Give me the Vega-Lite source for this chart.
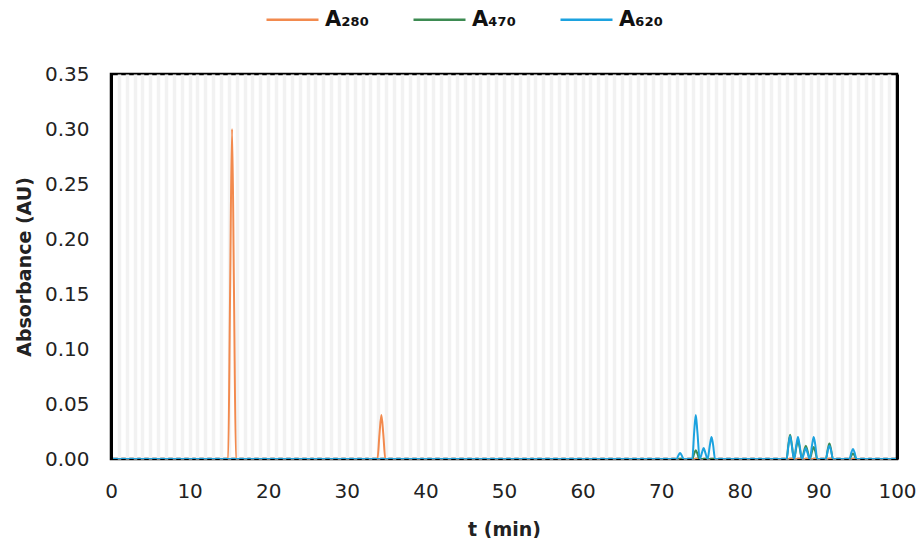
{
  "$schema": "https://vega.github.io/schema/vega-lite/v6.json",
  "width": 786,
  "height": 385,
  "autosize": {"type": "none"},
  "padding": {"left": 111, "top": 74, "right": 20, "bottom": 79},
  "background": "white",
  "config": {
    "font": "DejaVu Sans",
    "view": {"stroke": "#000000", "strokeWidth": 2.5}
  },
  "data": {
    "values": [
      {"t": 0, "v": 0, "s": "A₂₈₀"},
      {"t": 14.9, "v": 0, "s": "A₂₈₀"},
      {"t": 15.15, "v": 0.15, "s": "A₂₈₀"},
      {"t": 15.4, "v": 0.30, "s": "A₂₈₀"},
      {"t": 15.65, "v": 0.15, "s": "A₂₈₀"},
      {"t": 15.9, "v": 0, "s": "A₂₈₀"},
      {"t": 33.9, "v": 0, "s": "A₂₈₀"},
      {"t": 34.15, "v": 0.022, "s": "A₂₈₀"},
      {"t": 34.4, "v": 0.040, "s": "A₂₈₀"},
      {"t": 34.65, "v": 0.022, "s": "A₂₈₀"},
      {"t": 34.9, "v": 0, "s": "A₂₈₀"},
      {"t": 100, "v": 0, "s": "A₂₈₀"},

      {"t": 0, "v": 0, "s": "A₄₇₀"},
      {"t": 73.95, "v": 0, "s": "A₄₇₀"},
      {"t": 74.2, "v": 0.005, "s": "A₄₇₀"},
      {"t": 74.4, "v": 0.008, "s": "A₄₇₀"},
      {"t": 74.6, "v": 0.005, "s": "A₄₇₀"},
      {"t": 74.85, "v": 0, "s": "A₄₇₀"},
      {"t": 85.95, "v": 0, "s": "A₄₇₀"},
      {"t": 86.2, "v": 0.014, "s": "A₄₇₀"},
      {"t": 86.4, "v": 0.022, "s": "A₄₇₀"},
      {"t": 86.6, "v": 0.014, "s": "A₄₇₀"},
      {"t": 86.9, "v": 0, "s": "A₄₇₀"},
      {"t": 87.2, "v": 0.011, "s": "A₄₇₀"},
      {"t": 87.4, "v": 0.017, "s": "A₄₇₀"},
      {"t": 87.6, "v": 0.011, "s": "A₄₇₀"},
      {"t": 87.9, "v": 0, "s": "A₄₇₀"},
      {"t": 88.2, "v": 0.008, "s": "A₄₇₀"},
      {"t": 88.4, "v": 0.012, "s": "A₄₇₀"},
      {"t": 88.6, "v": 0.008, "s": "A₄₇₀"},
      {"t": 88.9, "v": 0, "s": "A₄₇₀"},
      {"t": 89.2, "v": 0.007, "s": "A₄₇₀"},
      {"t": 89.4, "v": 0.011, "s": "A₄₇₀"},
      {"t": 89.6, "v": 0.007, "s": "A₄₇₀"},
      {"t": 89.85, "v": 0, "s": "A₄₇₀"},
      {"t": 90.95, "v": 0, "s": "A₄₇₀"},
      {"t": 91.2, "v": 0.009, "s": "A₄₇₀"},
      {"t": 91.4, "v": 0.014, "s": "A₄₇₀"},
      {"t": 91.6, "v": 0.009, "s": "A₄₇₀"},
      {"t": 91.85, "v": 0, "s": "A₄₇₀"},
      {"t": 93.95, "v": 0, "s": "A₄₇₀"},
      {"t": 94.2, "v": 0.003, "s": "A₄₇₀"},
      {"t": 94.4, "v": 0.005, "s": "A₄₇₀"},
      {"t": 94.6, "v": 0.003, "s": "A₄₇₀"},
      {"t": 94.85, "v": 0, "s": "A₄₇₀"},
      {"t": 100, "v": 0, "s": "A₄₇₀"},

      {"t": 0, "v": 0, "s": "A₆₂₀"},
      {"t": 71.95, "v": 0, "s": "A₆₂₀"},
      {"t": 72.2, "v": 0.0035, "s": "A₆₂₀"},
      {"t": 72.4, "v": 0.0055, "s": "A₆₂₀"},
      {"t": 72.6, "v": 0.0035, "s": "A₆₂₀"},
      {"t": 72.85, "v": 0, "s": "A₆₂₀"},
      {"t": 73.95, "v": 0, "s": "A₆₂₀"},
      {"t": 74.2, "v": 0.025, "s": "A₆₂₀"},
      {"t": 74.4, "v": 0.040, "s": "A₆₂₀"},
      {"t": 74.6, "v": 0.025, "s": "A₆₂₀"},
      {"t": 74.9, "v": 0, "s": "A₆₂₀"},
      {"t": 75.2, "v": 0.006, "s": "A₆₂₀"},
      {"t": 75.4, "v": 0.010, "s": "A₆₂₀"},
      {"t": 75.6, "v": 0.006, "s": "A₆₂₀"},
      {"t": 75.9, "v": 0, "s": "A₆₂₀"},
      {"t": 76.2, "v": 0.013, "s": "A₆₂₀"},
      {"t": 76.4, "v": 0.020, "s": "A₆₂₀"},
      {"t": 76.6, "v": 0.013, "s": "A₆₂₀"},
      {"t": 76.85, "v": 0, "s": "A₆₂₀"},
      {"t": 85.95, "v": 0, "s": "A₆₂₀"},
      {"t": 86.2, "v": 0.013, "s": "A₆₂₀"},
      {"t": 86.4, "v": 0.021, "s": "A₆₂₀"},
      {"t": 86.6, "v": 0.013, "s": "A₆₂₀"},
      {"t": 86.9, "v": 0, "s": "A₆₂₀"},
      {"t": 87.2, "v": 0.013, "s": "A₆₂₀"},
      {"t": 87.4, "v": 0.020, "s": "A₆₂₀"},
      {"t": 87.6, "v": 0.013, "s": "A₆₂₀"},
      {"t": 87.9, "v": 0, "s": "A₆₂₀"},
      {"t": 88.2, "v": 0.006, "s": "A₆₂₀"},
      {"t": 88.4, "v": 0.010, "s": "A₆₂₀"},
      {"t": 88.6, "v": 0.006, "s": "A₆₂₀"},
      {"t": 88.9, "v": 0, "s": "A₆₂₀"},
      {"t": 89.2, "v": 0.013, "s": "A₆₂₀"},
      {"t": 89.4, "v": 0.020, "s": "A₆₂₀"},
      {"t": 89.6, "v": 0.013, "s": "A₆₂₀"},
      {"t": 89.85, "v": 0, "s": "A₆₂₀"},
      {"t": 90.95, "v": 0, "s": "A₆₂₀"},
      {"t": 91.2, "v": 0.008, "s": "A₆₂₀"},
      {"t": 91.4, "v": 0.012, "s": "A₆₂₀"},
      {"t": 91.6, "v": 0.008, "s": "A₆₂₀"},
      {"t": 91.85, "v": 0, "s": "A₆₂₀"},
      {"t": 93.95, "v": 0, "s": "A₆₂₀"},
      {"t": 94.2, "v": 0.006, "s": "A₆₂₀"},
      {"t": 94.4, "v": 0.009, "s": "A₆₂₀"},
      {"t": 94.6, "v": 0.006, "s": "A₆₂₀"},
      {"t": 94.85, "v": 0, "s": "A₆₂₀"},
      {"t": 100, "v": 0, "s": "A₆₂₀"}
    ]
  },
  "layer": [
    {
      "mark": {"type": "line", "strokeWidth": 2, "interpolate": "monotone", "clip": true},
      "encoding": {
        "x": {
          "field": "t",
          "type": "quantitative",
          "scale": {"domain": [0, 100], "nice": false},
          "axis": {
            "orient": "top",
            "title": null,
            "values": [1,2,3,4,5,6,7,8,9,10,11,12,13,14,15,16,17,18,19,20,21,22,23,24,25,26,27,28,29,30,31,32,33,34,35,36,37,38,39,40,41,42,43,44,45,46,47,48,49,50,51,52,53,54,55,56,57,58,59,60,61,62,63,64,65,66,67,68,69,70,71,72,73,74,75,76,77,78,79,80,81,82,83,84,85,86,87,88,89,90,91,92,93,94,95,96,97,98,99],
            "labels": false,
            "ticks": false,
            "domain": false,
            "grid": true,
            "gridColor": "#f2f2f2",
            "gridWidth": 3.5
          }
        },
        "y": {
          "field": "v",
          "type": "quantitative",
          "scale": {"domain": [0, 0.35], "nice": false},
          "axis": {
            "title": "Absorbance (AU)",
            "titleFontSize": 19,
            "titleFontWeight": "bold",
            "titleColor": "#222222",
            "titlePadding": 10,
            "values": [0, 0.05, 0.1, 0.15, 0.2, 0.25, 0.3, 0.35],
            "format": ".2f",
            "labelFontSize": 20,
            "labelColor": "#222222",
            "labelPadding": 22,
            "ticks": false,
            "domain": true,
            "domainColor": "#000000",
            "domainWidth": 3,
            "zindex": 1,
            "grid": false
          }
        },
        "color": {
          "field": "s",
          "type": "nominal",
          "scale": {
            "domain": ["A₂₈₀", "A₄₇₀", "A₆₂₀"],
            "range": ["#F28A4E", "#3D8B52", "#1CA2DF"]
          },
          "legend": {
            "title": null,
            "orient": "none",
            "direction": "horizontal",
            "legendX": 154,
            "legendY": -82,
            "symbolType": "stroke",
            "symbolSize": 2704,
            "symbolStrokeWidth": 2.5,
            "labelFont": "DejaVu Sans",
            "labelFontSize": 21,
            "labelFontWeight": "bold",
            "labelColor": "#111111",
            "labelOffset": 5,
            "columnPadding": 39
          }
        }
      }
    },
    {
      "mark": {"type": "point", "opacity": 0},
      "encoding": {
        "x": {
          "field": "t",
          "type": "quantitative",
          "axis": {
            "orient": "bottom",
            "title": "t (min)",
            "titleFontSize": 19,
            "titleFontWeight": "bold",
            "titleColor": "#222222",
            "titlePadding": 19,
            "values": [0, 10, 20, 30, 40, 50, 60, 70, 80, 90, 100],
            "labelFontSize": 20,
            "labelColor": "#222222",
            "labelPadding": 22,
            "labelFlush": false,
            "labelOverlap": false,
            "ticks": false,
            "domain": false,
            "grid": false
          }
        },
        "y": {
          "field": "v",
          "type": "quantitative",
          "axis": {
            "orient": "right",
            "title": null,
            "labels": false,
            "ticks": false,
            "grid": false,
            "domain": true,
            "domainColor": "#000000",
            "domainWidth": 3,
            "zindex": 1
          }
        }
      }
    }
  ],
  "resolve": {"axis": {"x": "independent", "y": "independent"}}
}
